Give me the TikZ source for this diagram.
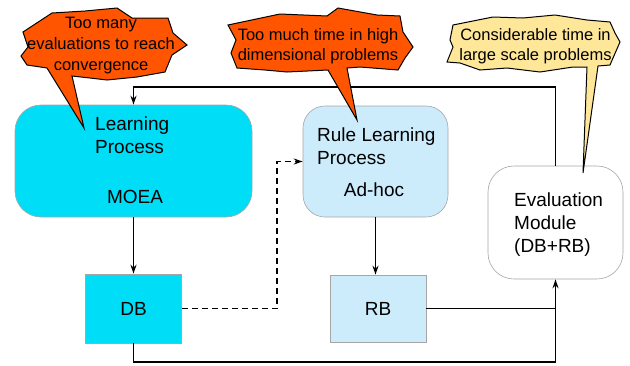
\documentclass[tikz,border=0pt]{standalone}
\usepackage{fontspec}
\setmainfont{Liberation Sans}
\usetikzlibrary{arrows.meta}

\definecolor{moea}{RGB}{0,221,247}
\definecolor{adhoc}{RGB}{204,236,252}
\definecolor{hot}{RGB}{255,85,0}
\definecolor{warm}{RGB}{255,231,153}

\newcommand\boxfont{\fontsize{19}{23}\selectfont}
\newcommand\notefont{\fontsize{16.5}{20.8}\selectfont}

\begin{document}
\begin{tikzpicture}[x=1pt, y=-1pt,
    >={Stealth[length=9pt,width=6pt]},
    box/.style={draw=gray!70, line width=0.6pt, inner sep=0pt, font=\boxfont},
    txt/.style={inner sep=0pt, font=\boxfont},
    flow/.style={line width=1.8pt},
    bubble/.style={draw=black, line width=1pt, line join=miter},
    note/.style={inner sep=0pt, font=\notefont, align=center}]

    \useasboundingbox (0,0) rectangle (630,365);

    % Boxes
    \node[box, fill=moea, rounded corners=26pt, minimum width=237pt, minimum height=112pt] (lp) at (133.5,161) {};
    \node[box, fill=adhoc, rounded corners=22pt, minimum width=145pt, minimum height=111pt] (rlp) at (375.5,161.5) {};
    \node[box, fill=white, rounded corners=26pt, minimum width=135pt, minimum height=113pt] (ev) at (555.5,222.5) {};
    \node[box, fill=moea, minimum width=96pt, minimum height=69pt] (db) at (133.5,308.5) {DB};
    \node[box, fill=adhoc, minimum width=96pt, minimum height=67pt] (rb) at (378,308.5) {RB};

    % Texts inside the boxes
    \node[txt, anchor=north west, align=left] (lptxt) at (95,117) {Learning\\Process};
    \node[txt, anchor=base] (moea) at (135,203) {MOEA};
    \node[txt, anchor=north west, align=left] (rlptxt) at (317,128) {Rule Learning\\Process};
    \node[txt, anchor=base] (adhoc) at (374,196) {Ad-hoc};
    \node[txt, anchor=north west, align=left] (evtxt) at (514,193) {Evaluation\\Module\\(DB+RB)};

    % Connections
    \coordinate (top) at (0,87);
    \coordinate (bot) at (0,362);
    \coordinate (dsh) at (277,0);

    \draw[flow, ->] (lp.south) -- (db.north);
    \draw[flow, ->] (rlp.south) -- (rlp.south |- rb.north);
    \draw[flow, ->, dashed, dash pattern=on 6pt off 4pt] (db.east) -- (db.east -| dsh) -- (dsh |- rlp.west) -- (rlp.west);
    \draw[flow] (rb.east) -- (rb.east -| ev.south);
    \draw[flow, ->] (db.south) |- (ev.south |- bot) -- (ev.south);
    \draw[flow, ->] (ev.north) |- (lp.north |- top) -- (lp.north);

    % Callouts
    \draw[bubble, fill=hot] (52,13) -- (85,11) -- (117,8) -- (132,18) -- (168,18) -- (173,33) -- (187,45)
        -- (172,55) -- (165,72) -- (137,77) -- (107,80) -- (90,78) -- (72,76) -- (84,128) -- (47,68)
        -- (27,65) -- (21,56) -- (28,47) -- (23,32) -- cycle;
    \node[note, anchor=north] (n1) at (101,17) {Too many\\evaluations to reach\\convergence};

    \draw[bubble, fill=hot] (228,25) -- (280,14) -- (327,16) -- (338,8) -- (377,15) -- (400,16) -- (403,32)
        -- (413,47) -- (405,58) -- (398,70) -- (360,67) -- (347,68) -- (357,120) -- (328,70) -- (287,72)
        -- (265,70) -- (237,68) -- (231,53) -- (236,40) -- cycle;
    \node[note, anchor=north] (n2) at (318,28) {Too much time in high\\dimensional problems};

    \draw[bubble, fill=warm] (453,25) -- (493,17) -- (523,18) -- (555,15) -- (587,20) -- (610,22) -- (615,33)
        -- (620,42) -- (613,58) -- (610,65) -- (598,66) -- (583,173) -- (587,67) -- (573,67) -- (540,72)
        -- (507,68) -- (480,70) -- (460,63) -- (447,62) -- (453,47) -- (450,40) -- cycle;
    \node[note, anchor=north] (n3) at (535.5,28) {Considerable time in\\large scale problems};
\end{tikzpicture}
\end{document}
